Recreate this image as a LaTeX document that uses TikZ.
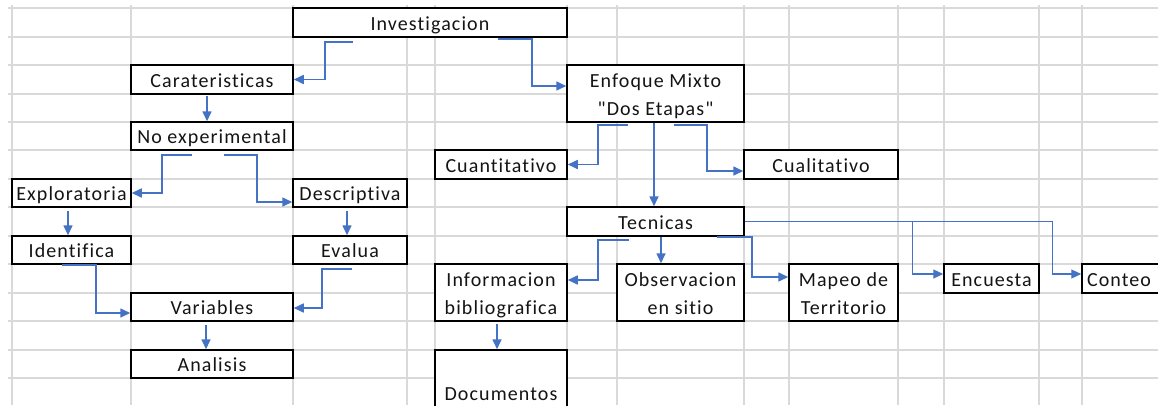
\documentclass[tikz,border=0pt]{standalone}
\usepackage{fontspec}
\newfontfamily\xlfont{Carlito}[LetterSpace=5.5,Ligatures={NoCommon}]
\usetikzlibrary{arrows.meta,calc}
\definecolor{connc}{HTML}{4472C4}
\definecolor{gridc}{HTML}{D9D9D9}
\definecolor{txtc}{HTML}{141414}
\begin{document}
\begin{tikzpicture}[x=1pt,y=-1pt,
  box/.style={draw=black, line width=1.5pt, fill=white, inner sep=0pt,
    text=txtc, text height=15pt, text depth=0pt,
    font=\xlfont\fontsize{20}{28}\selectfont},
  box2/.style={box, align=center, text height=43pt},
  conn/.style={draw=connc, line width=1.6pt, -{Triangle[length=10pt,width=9pt]}},
  connthin/.style={conn, line width=1.1pt},
  gridline/.style={draw=gridc, line width=1.2pt}]
\useasboundingbox (0,0) rectangle (1158,405);
\clip (0,0) rectangle (1158,405);
% spreadsheet grid
\foreach \x in {12,131,293,407,435,567,617,744,789,898,944,1039,1082}
  \draw[gridline] (\x,5) -- (\x,405);
\foreach \y in {8,37,65,94,122,150,179,207,236,264,293,321,350,378}
  \draw[gridline] (8,\y) -- (1158,\y);
% boxes
\node[box, minimum width=274, minimum height=29] (inv) at (430,22.5) {Investigacion};
\node[box, minimum width=162, minimum height=29] (car) at (212,79.5) {Carateristicas};
\node[box, minimum width=162, minimum height=28] (noexp) at (212,136) {No experimental};
\node[box, minimum width=119, minimum height=28] (expl) at (71.5,193) {Exploratoria};
\node[box, minimum width=114, minimum height=28] (desc) at (350,193) {Descriptiva};
\node[box, minimum width=119, minimum height=28] (ident) at (71.5,250) {Identifica};
\node[box, minimum width=114, minimum height=28] (eval) at (350,250) {Evalua};
\node[box, minimum width=162, minimum height=28] (vars) at (212,307) {Variables};
\node[box, minimum width=162, minimum height=28] (anal) at (212,364) {Analisis};
\node[box2, minimum width=177, minimum height=57] (enf) at (655.5,93.5) {Enfoque Mixto\\"Dos Etapas"};
\node[box, minimum width=132, minimum height=29] (cuan) at (501,164.5) {Cuantitativo};
\node[box, minimum width=154, minimum height=29] (cual) at (821,164.5) {Cualitativo};
\node[box, minimum width=177, minimum height=29] (tec) at (655.5,221.5) {Tecnicas};
\node[box2, minimum width=132, minimum height=57] (info) at (501,292.5) {Informacion\\bibliografica};
\node[box2, minimum width=127, minimum height=57] (obs) at (680.5,292.5) {Observacion\\en sitio};
\node[box2, minimum width=109, minimum height=57] (mapeo) at (843.5,292.5) {Mapeo de\\Territorio};
\node[box, minimum width=95, minimum height=29] (enc) at (991.5,278.5) {Encuesta};
\node[box, minimum width=118, minimum height=29, text width=108pt, align=left, inner xsep=5pt] (conteo) at (1141,278.5) {Conteo};
\node[box2, minimum width=132, minimum height=57] (doc) at (501,378.5) {Documentos};
% connectors
\draw[conn] ([xshift=-77pt,yshift=-4pt]inv.south) -- ++(-28,0) |- (car.east);
\draw[conn] ([xshift=68pt,yshift=-1pt]inv.south) -- ++(34,0) |- ([yshift=7.5pt]enf.west);
\draw[conn] ([xshift=-5pt,yshift=-1pt]car.south) -- ([xshift=-5pt]noexp.north);
\draw[conn] ([xshift=-20pt,yshift=-4pt]noexp.south) -- ++(-30,0) |- (expl.east);
\draw[conn] ([xshift=12pt,yshift=-4pt]noexp.south) -- ++(33,0) |- ([yshift=-9pt]desc.west);
\draw[conn] ([xshift=-3.5pt,yshift=-3pt]expl.south) -- ([xshift=-3.5pt]ident.north);
\draw[conn] ([xshift=-3pt,yshift=-3pt]desc.south) -- ([xshift=-3pt]eval.north);
\draw[conn] ([xshift=-9.5pt]ident.south) -- ++(34,0) |- ([yshift=-6pt]vars.west);
\draw[conn] ([xshift=2pt,yshift=-4pt]eval.south) -- ++(-30,0) |- ([yshift=-1pt]vars.east);
\draw[conn] ([xshift=-6pt,yshift=-3pt]vars.south) -- ([xshift=-6pt]anal.north);
\draw[conn] ([xshift=-27.5pt,yshift=-2pt]enf.south) -- ++(-30,0) |- (cuan.east);
\draw[conn] ([xshift=18.5pt,yshift=-2pt]enf.south) -- ++(33,0) |- ([yshift=-6.5pt]cual.west);
\draw[conn] ([xshift=-1.5pt]enf.south) -- ([xshift=-1.5pt]tec.north);
\draw[conn] ([xshift=-26.5pt,yshift=-3pt]tec.south) -- ++(-31,0) |- ([yshift=12.5pt]info.east);
\draw[conn] ([xshift=5.5pt]tec.south) -- ([xshift=-19.5pt]obs.north);
\draw[conn] ([xshift=61.5pt]tec.south) -- ++(35,0) |- ([yshift=15.5pt]mapeo.west);
\draw[connthin] (tec.east) -- ++(168,0) |- ([yshift=4.5pt]enc.west);
\draw[connthin] (tec.east) -- ++(308,0) |- ([yshift=4.5pt]conteo.west);
\draw[conn] ([xshift=-4pt,yshift=-2pt]info.south) -- ([xshift=-4pt]doc.north);
\end{tikzpicture}
\end{document}
